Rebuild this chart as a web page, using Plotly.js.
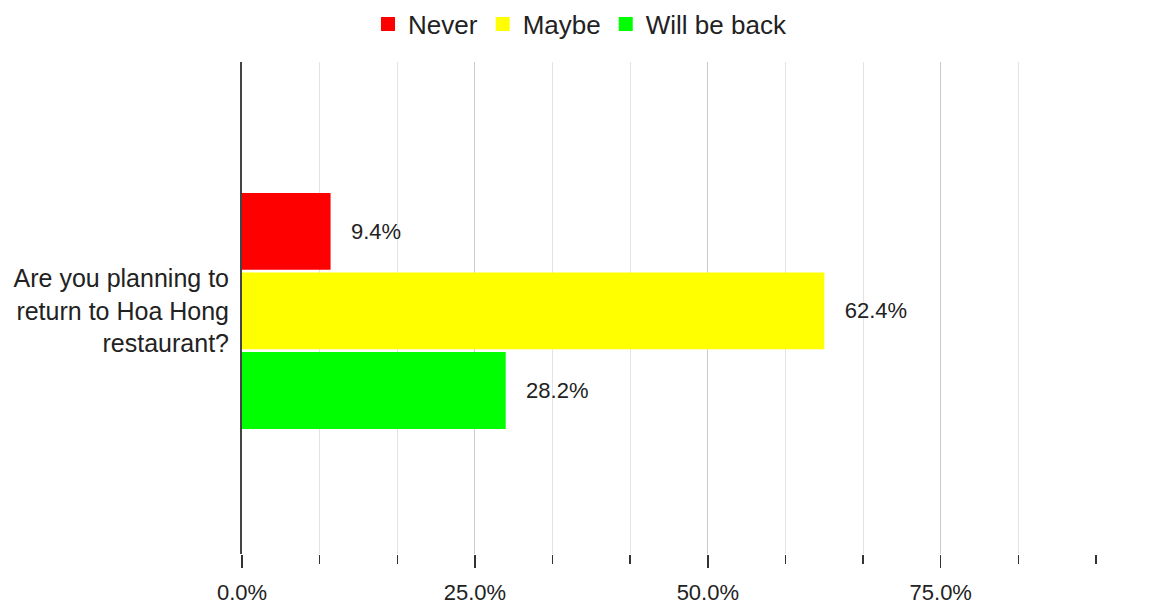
<!DOCTYPE html>
<html>
<head>
<meta charset="utf-8">
<script src="https://cdn.plot.ly/plotly-3.0.1.min.js"></script>
<style>
  html, body { margin: 0; padding: 0; background: #fff; }
  #chart { width: 1167px; height: 604px; }
</style>
</head>
<body>
<div id="chart"></div>
<script>
const categories = ["Are you planning to<br>return to Hoa Hong<br>restaurant?"];
const seriesNames = ["Never", "Maybe", "Will be back"];
const neverValues = [0.094];
const maybeValues = [0.624];
const willBeBackValues = [0.282];
const seriesColors = ["#ff0000", "#ffff00", "#00ff00"];
const xTickValues = [0, 0.25, 0.5, 0.75];
const xTickLabels = ["0.0%", "25.0%", "50.0%", "75.0%"];

const allValues = [neverValues, maybeValues, willBeBackValues];
const pad = "\u00a0\u00a0\u00a0";

const traces = seriesNames.map((name, i) => ({
  type: "bar",
  orientation: "h",
  name: name,
  y: categories,
  x: allValues[i],
  marker: { color: seriesColors[i], line: { width: 2, color: seriesColors[i] } },
  text: allValues[i].map(v => pad + (v * 100).toFixed(1) + "%"),
  textposition: "outside",
  textfont: { family: "Liberation Sans, Arial, sans-serif", size: 22, color: "#222222" },
  constraintext: "none",
  cliponaxis: false,
  hoverinfo: "skip"
}));

const layout = {
  width: 1167,
  height: 604,
  margin: { l: 242, r: 71, t: 62, b: 50, pad: 0 },
  paper_bgcolor: "#ffffff",
  plot_bgcolor: "#ffffff",
  font: { family: "Liberation Sans, Arial, sans-serif", color: "#222222", size: 22 },
  barmode: "group",
  bargap: 0.515,
  bargroupgap: 0.06,
  showlegend: true,
  legend: {
    orientation: "h",
    xref: "container",
    yref: "container",
    x: 0.497,
    xanchor: "center",
    y: 0.999,
    yanchor: "top",
    font: { size: 26, color: "#222222", family: "Liberation Sans, Arial, sans-serif" },
    traceorder: "normal",
    itemclick: false
  },
  xaxis: {
    range: [0, 11 / 12],
    tickmode: "array",
    tickvals: xTickValues,
    ticktext: xTickLabels,
    ticks: "outside",
    ticklen: 13,
    tickwidth: 1.5,
    tickcolor: "#333333",
    ticklabelstandoff: 6,
    showgrid: true,
    gridcolor: "#cccccc",
    gridwidth: 1,
    zeroline: false,
    showline: false,
    tickfont: { size: 22, color: "#222222" },
    minor: {
      dtick: 1 / 12,
      tick0: 0,
      ticks: "outside",
      ticklen: 9,
      tickwidth: 1.5,
      tickcolor: "#333333",
      showgrid: true,
      gridcolor: "#e3e3e3",
      gridwidth: 1
    },
    fixedrange: true
  },
  yaxis: {
    range: [0.494, -0.506],
    showline: true,
    linecolor: "#444444",
    linewidth: 2,
    showgrid: false,
    zeroline: false,
    ticks: "",
    ticklabelstandoff: 6,
    tickfont: { size: 25, color: "#222222" },
    fixedrange: true
  }
};

Plotly.newPlot("chart", traces, layout, { displayModeBar: false, staticPlot: true });
</script>
</body>
</html>
